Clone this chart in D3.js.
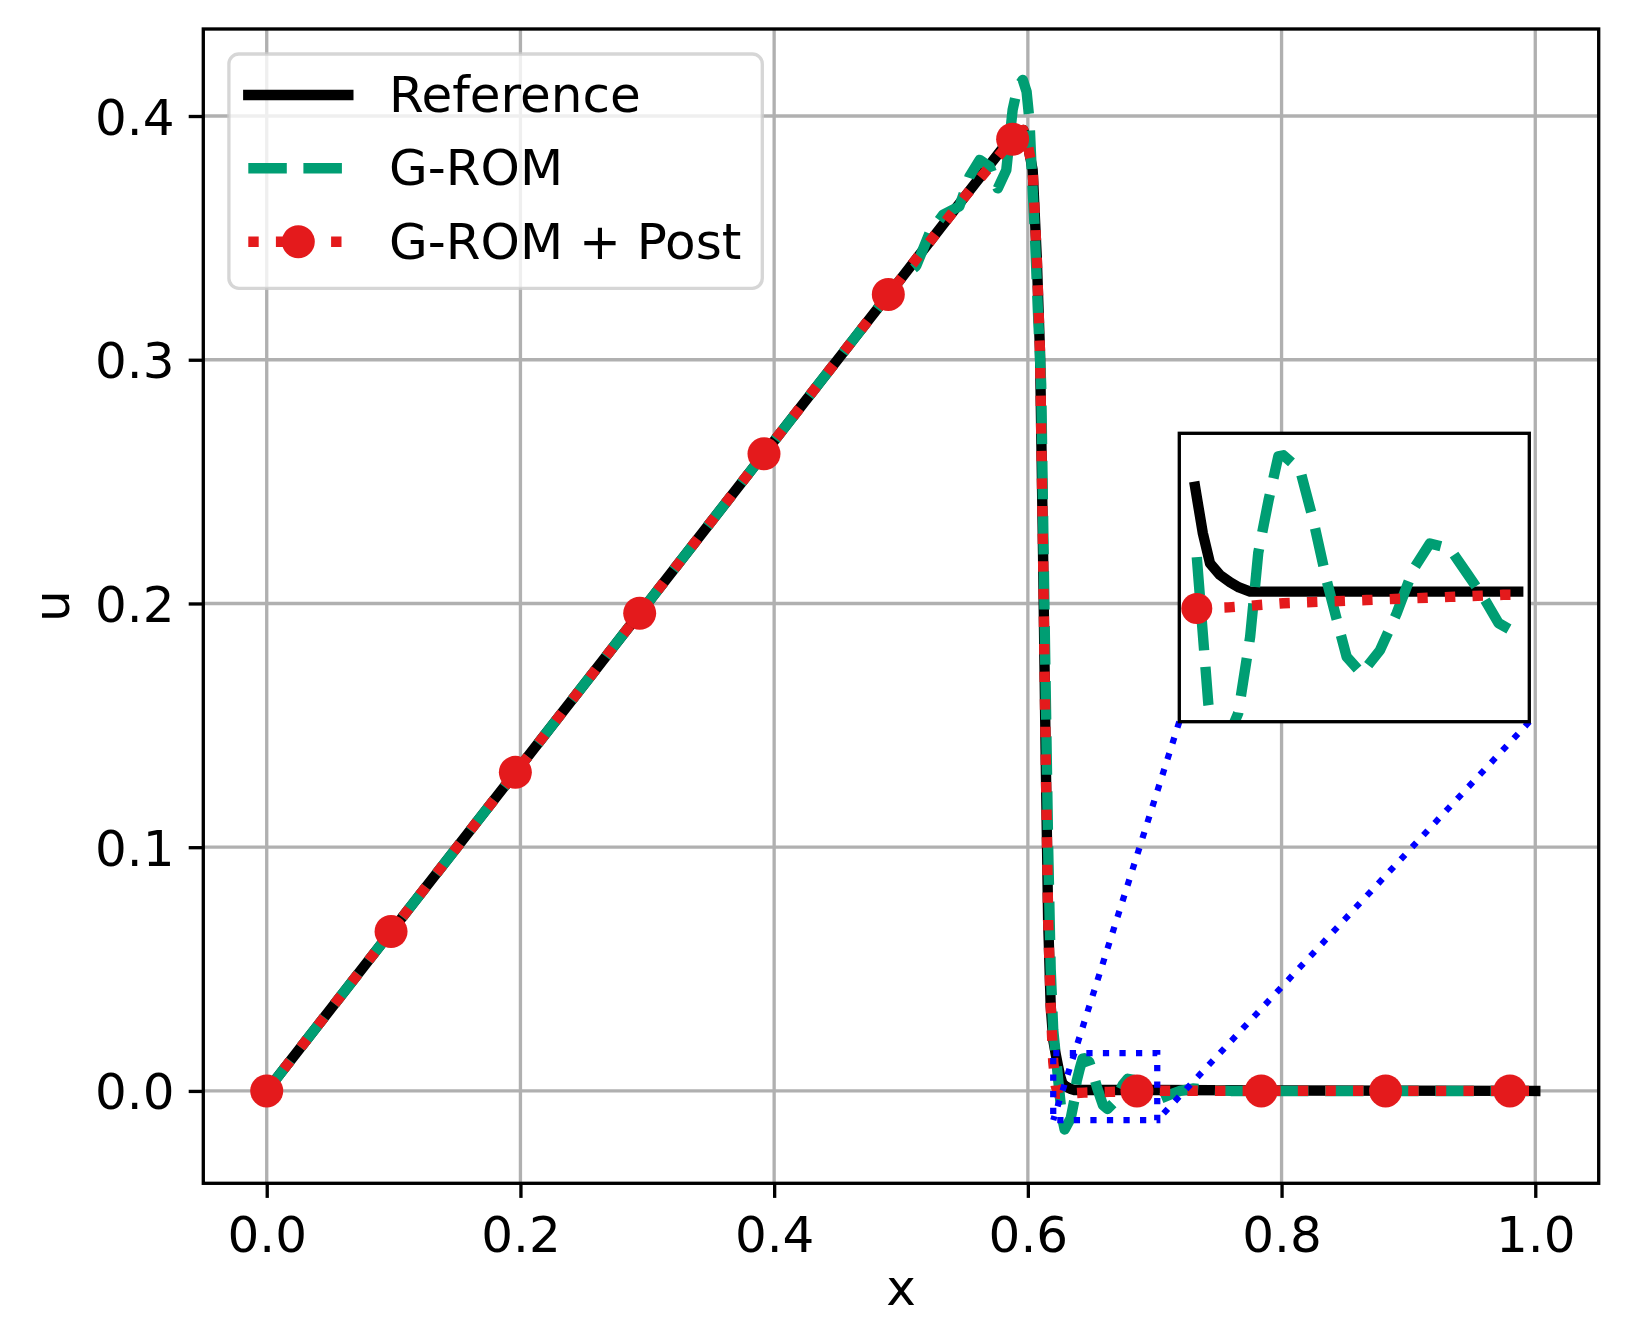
<!DOCTYPE html>
<html>
<head>
<meta charset="utf-8">
<script src="https://cdnjs.cloudflare.com/ajax/libs/d3/7.8.5/d3.min.js"></script>
<style>
  html, body { margin: 0; padding: 0; background: #fff; }
  svg text { font-family: "DejaVu Sans", sans-serif; fill: #000; }
</style>
</head>
<body>
<div id="chart"></div>
<script>
// ---- data ----
const xTicks = [0, 0.2, 0.4, 0.6, 0.8, 1.0];
const yTicks = [0, 0.1, 0.2, 0.3, 0.4];
const seriesNames = ["Reference", "G-ROM", "G-ROM + Post"];

const refX = [0, 0.1, 0.2, 0.3, 0.4, 0.5, 0.55, 0.58, 0.59, 0.5964, 0.600, 0.6038, 0.607, 0.6096,
  0.612, 0.614, 0.616, 0.618, 0.620, 0.622, 0.6237, 0.6255, 0.6272, 0.6295, 0.6319, 0.634, 0.6366,
  0.65, 0.6994, 0.80, 1.0];
const refU = [0, 0.0667, 0.1333, 0.2, 0.2667, 0.3333, 0.3667, 0.3867, 0.3927, 0.3943, 0.388, 0.3779, 0.3423, 0.3028,
  0.22, 0.14, 0.07, 0.035, 0.021, 0.015, 0.0104, 0.0060, 0.0031, 0.0020, 0.0013, 0.0008, 0.0004,
  0.0004, 0.0004, 0.0002, 0.0];

const gromX = [0, 0.1, 0.2, 0.3, 0.4, 0.48, 0.50, 0.512, 0.5225, 0.533, 0.546, 0.554, 0.562, 0.570,
  0.5763, 0.583, 0.588, 0.592, 0.596, 0.599, 0.6013, 0.603, 0.6053, 0.6079, 0.6105, 0.613, 0.616,
  0.618, 0.620, 0.6225, 0.6241, 0.6268, 0.6290, 0.6338, 0.6366, 0.6385, 0.6409, 0.6432, 0.6444,
  0.6483, 0.6514, 0.6545, 0.6573, 0.6592, 0.6627, 0.6670, 0.6709, 0.6748, 0.6787, 0.6834, 0.6873,
  0.6912, 0.6948, 0.6983, 0.6994, 0.705, 0.712, 0.72, 0.73, 0.74, 0.76, 1.0];
const gromU = [0, 0.0667, 0.1333, 0.2, 0.2667, 0.32, 0.3333, 0.3385, 0.3519, 0.3594, 0.3629, 0.3752, 0.382, 0.3792,
  0.3703, 0.3778, 0.4025, 0.412, 0.4148, 0.410, 0.398, 0.378, 0.3546, 0.3204, 0.290, 0.20, 0.10,
  0.05, 0.025, 0.012, 0.0037, -0.0103, -0.0158, -0.0112, -0.0039, 0.0041, 0.0091, 0.0133, 0.0134,
  0.0120, 0.0072, 0.0015, -0.0029, -0.0058, -0.0074, -0.0052, -0.0017, 0.0025, 0.0050, 0.0045, 0.0022,
  -0.0001, -0.0026, -0.0034, -0.0036, -0.003, -0.0015, 0.0, 0.001, 0.0005, 0.0, 0.0];

const postX = [0, 0.1, 0.2, 0.3, 0.4, 0.5, 0.55, 0.588, 0.5964, 0.600, 0.6038, 0.607, 0.6096, 0.612,
  0.614, 0.616, 0.618, 0.620, 0.622, 0.6241, 0.6315, 0.6444, 0.6639, 0.6834, 0.6959, 0.6994, 0.72, 1.0];
const postU = [0, 0.0667, 0.1333, 0.2, 0.2667, 0.3333, 0.3667, 0.3905, 0.3943, 0.388, 0.3779, 0.3423, 0.3028, 0.22,
  0.14, 0.07, 0.035, 0.012, 0.002, -0.0012, -0.0011, -0.0007, -0.0004, -0.0001, 0.0001, 0.0001, 0.0001, 0.0];

// circle markers on the post-processed curve (every 25th grid point)
const postMarkX = [0, 0.098, 0.196, 0.294, 0.392, 0.490, 0.588, 0.686, 0.784, 0.882, 0.980];
const postMarkU = [0, 0.0654, 0.1307, 0.196, 0.2614, 0.3268, 0.3905, 0, 0, 0, 0];
const insetMarkX = [0.6241];
const insetMarkU = [-0.0012];

// zoomed window shown in the inset
const zoomX = [0.62, 0.702];
const zoomU = [-0.012, 0.0155];
const insetFrom = 0.6236, insetTo = 0.6995;

// ---- layout ----
const W = 1629, H = 1317;
const L = 203.3, R = 1598.7, T = 29, B = 1183.3;
const lw = 10.4;
const colors = { ref: "#000000", grom: "#009e73", post: "#e41a1c", zoom: "#0000ff", grid: "#b0b0b0" };

const svg = d3.select("#chart").append("svg")
  .attr("width", W).attr("height", H)
  .style("background", "#fff");

const x = d3.scaleLinear().domain([-0.05, 1.05]).range([L, R]);
const y = d3.scaleLinear().domain([-0.0379, 0.4357]).range([B, T]);

// grid
const grid = svg.append("g");
grid.selectAll(".gx").data(xTicks).enter().append("line")
  .attr("x1", d => x(d)).attr("x2", d => x(d)).attr("y1", T).attr("y2", B)
  .attr("stroke", colors.grid).attr("stroke-width", 3.33);
grid.selectAll(".gy").data(yTicks).enter().append("line")
  .attr("y1", d => y(d)).attr("y2", d => y(d)).attr("x1", L).attr("x2", R)
  .attr("stroke", colors.grid).attr("stroke-width", 3.33);

svg.append("clipPath").attr("id", "clipMain")
  .append("rect").attr("x", L).attr("y", T).attr("width", R - L).attr("height", B - T);

function zip(xs, us) { return xs.map((v, i) => [v, us[i]]); }

function drawSeries(g, sx, sy, xs, us, markX, markU) {
  const line = d3.line().x(d => sx(d[0])).y(d => sy(d[1]));
  g.append("path").datum(zip(xs[0], us[0]))
    .attr("d", line).attr("fill", "none")
    .attr("stroke", colors.ref).attr("stroke-width", lw)
    .attr("stroke-linecap", "square").attr("stroke-linejoin", "round");
  g.append("path").datum(zip(xs[1], us[1]))
    .attr("d", line).attr("fill", "none")
    .attr("stroke", colors.grom).attr("stroke-width", lw)
    .attr("stroke-dasharray", "38.5,16.6").attr("stroke-linejoin", "round");
  g.append("path").datum(zip(xs[2], us[2]))
    .attr("d", line).attr("fill", "none")
    .attr("stroke", colors.post).attr("stroke-width", lw)
    .attr("stroke-dasharray", "10.4,17.2").attr("stroke-linejoin", "round");
  g.selectAll(".mk").data(zip(markX, markU)).enter().append("circle")
    .attr("cx", d => sx(d[0])).attr("cy", d => sy(d[1])).attr("r", 16.5)
    .attr("fill", colors.post);
}

const main = svg.append("g").attr("clip-path", "url(#clipMain)");
drawSeries(main, x, y, [refX, gromX, postX], [refU, gromU, postU], postMarkX, postMarkU);

// spines
svg.append("rect").attr("x", L).attr("y", T).attr("width", R - L).attr("height", B - T)
  .attr("fill", "none").attr("stroke", "#000").attr("stroke-width", 3.33);

// axes
const xAxis = d3.axisBottom(x).tickValues(xTicks).tickFormat(d3.format(".1f"))
  .tickSizeInner(14.6).tickSizeOuter(0).tickPadding(18.6);
const gx = svg.append("g").attr("transform", `translate(0,${B})`).call(xAxis);
gx.select(".domain").remove();
gx.selectAll("line").attr("stroke", "#000").attr("stroke-width", 3.33);
gx.selectAll("text").attr("font-size", 50).attr("fill", "#000")
  .style("font-family", "DejaVu Sans");

const yAxis = d3.axisLeft(y).tickValues(yTicks).tickFormat(d3.format(".1f"))
  .tickSizeInner(14.6).tickSizeOuter(0).tickPadding(14.2);
const gy = svg.append("g").attr("transform", `translate(${L},0)`).call(yAxis);
gy.select(".domain").remove();
gy.selectAll("line").attr("stroke", "#000").attr("stroke-width", 3.33);
gy.selectAll("text").attr("font-size", 50).attr("fill", "#000").attr("dy", "0.36em")
  .style("font-family", "DejaVu Sans");

// x label sits at the very bottom edge, as in the original
svg.append("text").attr("x", (L + R) / 2).attr("y", 1305)
  .attr("text-anchor", "middle").attr("font-size", 50).text("x");
svg.append("text").attr("transform", `translate(69,${(T + B) / 2}) rotate(-90)`)
  .attr("text-anchor", "middle").attr("font-size", 50).text("u");

// inset
const IL = 1179.3, IR = 1529.3, IT = 433.3, IB = 721.7;
const xi = d3.scaleLinear().domain(zoomX).range([IL, IR]);
const yi = d3.scaleLinear().domain(zoomU).range([IB, IT]);

// zoom box and connectors (dotted blue)
const dotted = "6.25,10.3";
svg.append("rect")
  .attr("x", x(zoomX[0])).attr("y", y(zoomU[1]))
  .attr("width", x(zoomX[1]) - x(zoomX[0])).attr("height", y(zoomU[0]) - y(zoomU[1]))
  .attr("fill", "none").attr("stroke", colors.zoom).attr("stroke-width", 6.25)
  .attr("stroke-dasharray", dotted);
svg.append("line").attr("x1", IL).attr("y1", IB).attr("x2", x(zoomX[0])).attr("y2", y(zoomU[0]))
  .attr("stroke", colors.zoom).attr("stroke-width", 6.25).attr("stroke-dasharray", dotted);
svg.append("line").attr("x1", IR).attr("y1", IB).attr("x2", x(zoomX[1])).attr("y2", y(zoomU[0]))
  .attr("stroke", colors.zoom).attr("stroke-width", 6.25).attr("stroke-dasharray", dotted);

svg.append("rect").attr("x", IL).attr("y", IT).attr("width", IR - IL).attr("height", IB - IT)
  .attr("fill", "#fff");
svg.append("clipPath").attr("id", "clipInset")
  .append("rect").attr("x", IL).attr("y", IT).attr("width", IR - IL).attr("height", IB - IT);

function slice(xs, us) {
  const keep = xs.map((v, i) => i).filter(i => xs[i] >= insetFrom && xs[i] <= insetTo);
  return [keep.map(i => xs[i]), keep.map(i => us[i])];
}
const sRef = slice(refX, refU), sGrom = slice(gromX, gromU), sPost = slice(postX, postU);
const inset = svg.append("g").attr("clip-path", "url(#clipInset)");
drawSeries(inset, xi, yi, [sRef[0], sGrom[0], sPost[0]], [sRef[1], sGrom[1], sPost[1]], insetMarkX, insetMarkU);
inset.selectAll("circle").attr("r", 15.5);

svg.append("rect").attr("x", IL).attr("y", IT).attr("width", IR - IL).attr("height", IB - IT)
  .attr("fill", "none").attr("stroke", "#000").attr("stroke-width", 3.33);

// legend
const leg = svg.append("g");
leg.append("rect").attr("x", 228.9).attr("y", 54).attr("width", 762.3 - 228.9).attr("height", 288.3 - 54)
  .attr("rx", 10).attr("ry", 10)
  .attr("fill", "#fff").attr("fill-opacity", 0.8)
  .attr("stroke", "#cccccc").attr("stroke-opacity", 0.8).attr("stroke-width", 3.33);
const rowY = [95, 168.3, 241.7];
const hx0 = 248.3, hx1 = 348.3;
leg.append("line").attr("x1", hx0).attr("x2", hx1).attr("y1", rowY[0]).attr("y2", rowY[0])
  .attr("stroke", colors.ref).attr("stroke-width", lw).attr("stroke-linecap", "square");
leg.append("line").attr("x1", hx0).attr("x2", hx1).attr("y1", rowY[1]).attr("y2", rowY[1])
  .attr("stroke", colors.grom).attr("stroke-width", lw).attr("stroke-dasharray", "38.5,16.6");
leg.append("line").attr("x1", hx0).attr("x2", hx1).attr("y1", rowY[2]).attr("y2", rowY[2])
  .attr("stroke", colors.post).attr("stroke-width", lw).attr("stroke-dasharray", "10.4,17.2");
leg.append("circle").attr("cx", (hx0 + hx1) / 2).attr("cy", rowY[2]).attr("r", 16.5).attr("fill", colors.post);
leg.selectAll(".lt").data(seriesNames).enter().append("text")
  .attr("x", 389).attr("y", (d, i) => rowY[i] + 17)
  .attr("font-size", 50).text(d => d);
</script>
</body>
</html>
